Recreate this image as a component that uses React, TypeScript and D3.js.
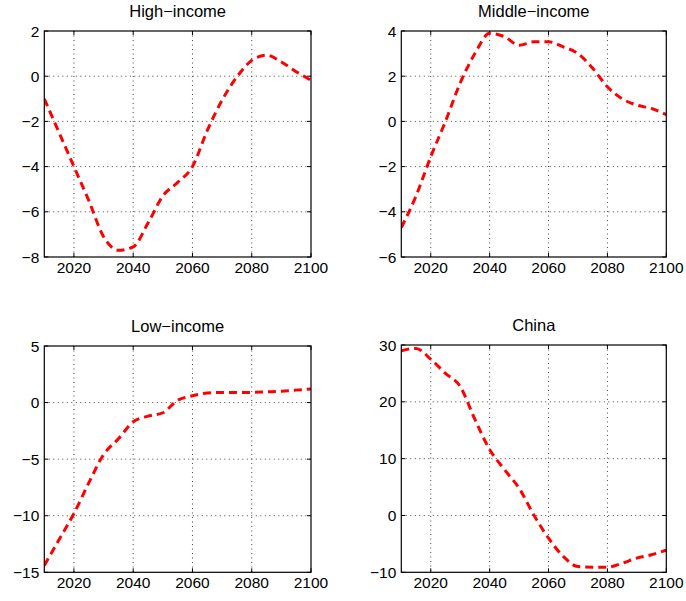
import React from "react";
import * as d3 from "d3";

const years = [2010, 2015, 2020, 2025, 2030, 2035, 2040, 2045, 2050, 2055, 2060, 2065, 2070, 2075, 2080, 2085, 2090, 2095, 2100];

const highIncome = [-1.0, -2.5, -4.0, -5.5, -7.1, -7.7, -7.55, -6.5, -5.3, -4.7, -4.0, -2.4, -1.06, -0.03, 0.7, 0.93, 0.63, 0.2, -0.18];
const middleIncome = [-4.7, -3.3, -1.56, 0.0, 1.7, 3.0, 3.9, 3.75, 3.37, 3.52, 3.52, 3.3, 3.0, 2.35, 1.53, 1.0, 0.72, 0.57, 0.3];
const lowIncome = [-14.4, -12.1, -9.8, -7.1, -4.6, -3.2, -1.7, -1.2, -0.9, 0.2, 0.6, 0.85, 0.9, 0.88, 0.9, 0.95, 1.0, 1.1, 1.2];
const china = [29.0, 29.4, 27.5, 25.0, 22.7, 16.9, 11.6, 8.1, 4.8, 0.1, -4.0, -7.2, -9.0, -9.1, -9.1, -8.4, -7.5, -6.9, -6.1];

const titles = ["High−income", "Middle−income", "Low−income", "China"];
const xTicks = [2020, 2040, 2060, 2080, 2100];
const yTicksList = [
  [-8, -6, -4, -2, 0, 2],
  [-6, -4, -2, 0, 2, 4],
  [-15, -10, -5, 0, 5],
  [-10, 0, 10, 20, 30],
];
const seriesList = [highIncome, middleIncome, lowIncome, china];

const boxes = [
  { x0: 44.3, x1: 311, y0: 31, y1: 257 },
  { x0: 401.3, x1: 666.3, y0: 31, y1: 257 },
  { x0: 44.3, x1: 311, y0: 346, y1: 572.3 },
  { x0: 401.3, x1: 666.3, y0: 345, y1: 572.3 },
];

const fmt = (v: number) => (v < 0 ? "−" + Math.abs(v) : String(v));
const FONT = "'Liberation Sans', Arial, Helvetica, sans-serif";

function Panel({ idx }: { idx: number }) {
  const b = boxes[idx];
  const yt = yTicksList[idx];
  const x = d3.scaleLinear().domain([2010, 2100]).range([b.x0, b.x1]);
  const y = d3.scaleLinear().domain([yt[0], yt[yt.length - 1]]).range([b.y1, b.y0]);
  const data = seriesList[idx];
  const line = d3
    .line<number>()
    .x((_, i) => x(years[i]))
    .y((d) => y(d))
    .curve(d3.curveMonotoneX);
  const clipId = "clip" + idx;
  const tl = 4;
  return (
    <g>
      <defs>
        <clipPath id={clipId}>
          <rect x={b.x0} y={b.y0} width={b.x1 - b.x0} height={b.y1 - b.y0} />
        </clipPath>
      </defs>
      <rect x={b.x0} y={b.y0} width={b.x1 - b.x0} height={b.y1 - b.y0} fill="#fff" />
      {xTicks.filter((t) => t < 2100).map((t) => (
        <line key={"gx" + t} x1={x(t)} x2={x(t)} y1={b.y0} y2={b.y1} stroke="#444" strokeWidth={1} strokeDasharray="1 3.5" />
      ))}
      {yt.slice(1, -1).map((t) => (
        <line key={"gy" + t} x1={b.x0} x2={b.x1} y1={y(t)} y2={y(t)} stroke="#444" strokeWidth={1} strokeDasharray="1 3.5" />
      ))}
      {xTicks.map((t) => (
        <g key={"tx" + t}>
          <line x1={x(t)} x2={x(t)} y1={b.y1} y2={b.y1 - tl} stroke="#000" />
          <line x1={x(t)} x2={x(t)} y1={b.y0} y2={b.y0 + tl} stroke="#000" />
          <text x={x(t)} y={b.y1 + 16} textAnchor="middle" fontSize={15.5} fontFamily={FONT} fill="#000">
            {t}
          </text>
        </g>
      ))}
      {yt.map((t) => (
        <g key={"ty" + t}>
          <line x1={b.x0} x2={b.x0 + tl} y1={y(t)} y2={y(t)} stroke="#000" />
          <line x1={b.x1} x2={b.x1 - tl} y1={y(t)} y2={y(t)} stroke="#000" />
          <text x={b.x0 - 5} y={y(t) + 5.5} textAnchor="end" fontSize={15.5} fontFamily={FONT} fill="#000">
            {fmt(t)}
          </text>
        </g>
      ))}
      <path d={line(data) || ""} fill="none" stroke="#ff0000" strokeWidth={3} strokeDasharray="8 5" clipPath={`url(#${clipId})`} />
      <rect x={b.x0} y={b.y0} width={b.x1 - b.x0} height={b.y1 - b.y0} fill="none" stroke="#000" strokeWidth={1.2} />
      <text x={(b.x0 + b.x1) / 2} y={b.y0 - 14} textAnchor="middle" fontSize={16.5} fontFamily={FONT} fill="#000">
        {titles[idx]}
      </text>
    </g>
  );
}

export default function App() {
  return (
    <svg width={686} height={601} style={{ position: "absolute", left: 0, top: 0, background: "#fff" }}>
      <rect width={686} height={601} fill="#fff" />
      {[0, 1, 2, 3].map((i) => (
        <Panel key={i} idx={i} />
      ))}
    </svg>
  );
}
